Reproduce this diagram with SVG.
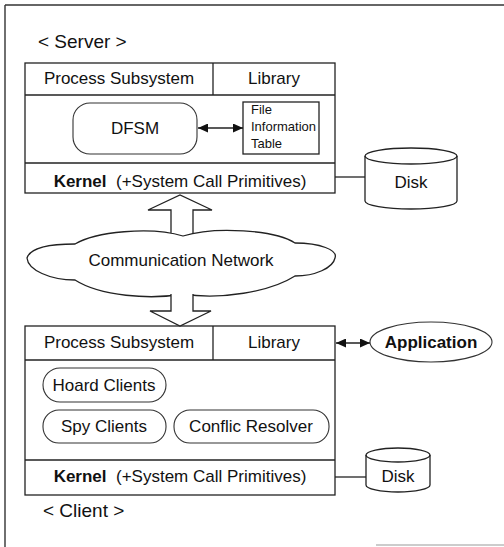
<svg xmlns="http://www.w3.org/2000/svg" width="504" height="547" viewBox="0 0 504 547">
<style>
text{font-family:"Liberation Sans",Arial,sans-serif;fill:#111;}
.t{font-size:17px;}
.c{text-anchor:middle;}
.b{font-weight:bold;}
.s{font-size:13px;}
.box{fill:#fff;stroke:#222;stroke-width:1.3;}
.ln{fill:none;stroke:#222;stroke-width:1.3;}
.rr{fill:#fff;stroke:#333;stroke-width:1.1;}
.frame{fill:none;stroke:#333;stroke-width:1.4;}
</style>
<defs>
<marker id="ah" viewBox="0 0 10 10" refX="10" refY="5" markerWidth="10" markerHeight="9" markerUnits="userSpaceOnUse" orient="auto-start-reverse" preserveAspectRatio="none">
<path d="M0,0 L10,5 L0,10 z" fill="#111"/>
</marker>
</defs>
<rect width="504" height="547" fill="#fff"/>
<g id="frame">
<line class="frame" x1="5" y1="5" x2="504" y2="5"/>
<line class="frame" x1="5" y1="5" x2="5" y2="547"/>
<line x1="376" y1="545" x2="504" y2="545" stroke="#999" stroke-width="1.2"/>
</g>
<g id="server-label"><text class="t" x="38" y="48" style="font-size:19px">&lt; Server &gt;</text></g>
<g id="server">
<rect class="box" x="25" y="63" width="310" height="130"/>
<line class="ln" x1="25" y1="95" x2="335" y2="95"/>
<line class="ln" x1="213" y1="63" x2="213" y2="95"/>
<line class="ln" x1="25" y1="163" x2="335" y2="163"/>
<text class="t c" x="119" y="84">Process Subsystem</text>
<text class="t c" x="274" y="84">Library</text>
<text class="t c" x="180" y="187"><tspan class="b">Kernel</tspan>&#160; (+System Call Primitives)</text>
</g>
<g id="dfsm">
<rect class="rr" x="73" y="103" width="124" height="51" rx="17"/>
<text class="t c" x="135" y="134">DFSM</text>
</g>
<g id="fit">
<rect class="box" x="243" y="102" width="76" height="52" stroke-width="1.1"/>
<text class="s" x="251" y="114">File</text>
<text class="s" x="251" y="131">Information</text>
<text class="s" x="251" y="148">Table</text>
</g>
<g id="server-disk">
<path class="box" d="M365,156 L365,201 A46,8 0 0 0 457,201 L457,156 A46,8 0 0 0 365,156 Z"/>
<path class="ln" d="M365,156 A46,8 0 0 0 457,156"/>
<text class="t c" x="411" y="188">Disk</text>
</g>
<g id="network">
<path class="box" d="M27,258 C30,248 50,244 75,244 C95,232 150,226 183,236 C215,226 275,230 295,243 C320,243 338,250 335,258 C333,268 315,276 295,276 C270,292 220,300 183,294 C150,300 100,296 75,280 C50,280 28,270 27,258 Z"/>
<text class="t c" x="181" y="266">Communication Network</text>
</g>
<g id="client">
<rect class="box" x="25" y="326" width="310" height="169"/>
<line class="ln" x1="25" y1="360" x2="335" y2="360"/>
<line class="ln" x1="213" y1="326" x2="213" y2="360"/>
<line class="ln" x1="25" y1="460" x2="335" y2="460"/>
<text class="t c" x="119" y="348">Process Subsystem</text>
<text class="t c" x="274" y="348">Library</text>
<text class="t c" x="180" y="482"><tspan class="b">Kernel</tspan>&#160; (+System Call Primitives)</text>
</g>
<g id="hoard">
<rect class="rr" x="43" y="368" width="123" height="34" rx="17"/>
<text class="t c" x="104" y="391">Hoard Clients</text>
</g>
<g id="spy">
<rect class="rr" x="43" y="410" width="123" height="33" rx="16"/>
<text class="t c" x="104" y="432">Spy Clients</text>
</g>
<g id="resolver">
<rect class="rr" x="174" y="410" width="155" height="33" rx="16"/>
<text class="t c" x="251" y="432">Conflic Resolver</text>
</g>
<g id="application">
<ellipse class="rr" cx="431" cy="342" rx="61" ry="20"/>
<text class="t c b" x="431" y="348">Application</text>
</g>
<g id="client-disk">
<path class="box" d="M366,455 L366,485 A32,7 0 0 0 430,485 L430,455 A32,7 0 0 0 366,455 Z"/>
<path class="ln" d="M366,455 A32,7 0 0 0 430,455"/>
<text class="t c" x="398" y="482">Disk</text>
</g>
<g id="client-label"><text class="t" x="43" y="517" style="font-size:19px">&lt; Client &gt;</text></g>
<g id="connectors">
<line class="ln" x1="335" y1="177" x2="365" y2="177"/>
<line class="ln" x1="335" y1="477" x2="366" y2="477"/>
<line class="ln" x1="198" y1="128" x2="243" y2="128" stroke-width="2" marker-start="url(#ah)" marker-end="url(#ah)"/>
<line class="ln" x1="336" y1="343" x2="370" y2="343" stroke-width="2" marker-start="url(#ah)" marker-end="url(#ah)"/>
<path d="M171,233 L171,210 L148,210 L180,195 L212,210 L193,210 L193,233 Z" fill="#fff" stroke="none"/>
<path class="ln" d="M171,233 L171,210 L148,210 L180,195 L212,210 L193,210 L193,233"/>
<path d="M171,293 L171,311 L150,311 L180,326 L211,311 L193,311 L193,293 Z" fill="#fff" stroke="none"/>
<path class="ln" d="M171,294 L171,311 L150,311 L180,326 L211,311 L193,311 L193,294"/>
</g>
</svg>
